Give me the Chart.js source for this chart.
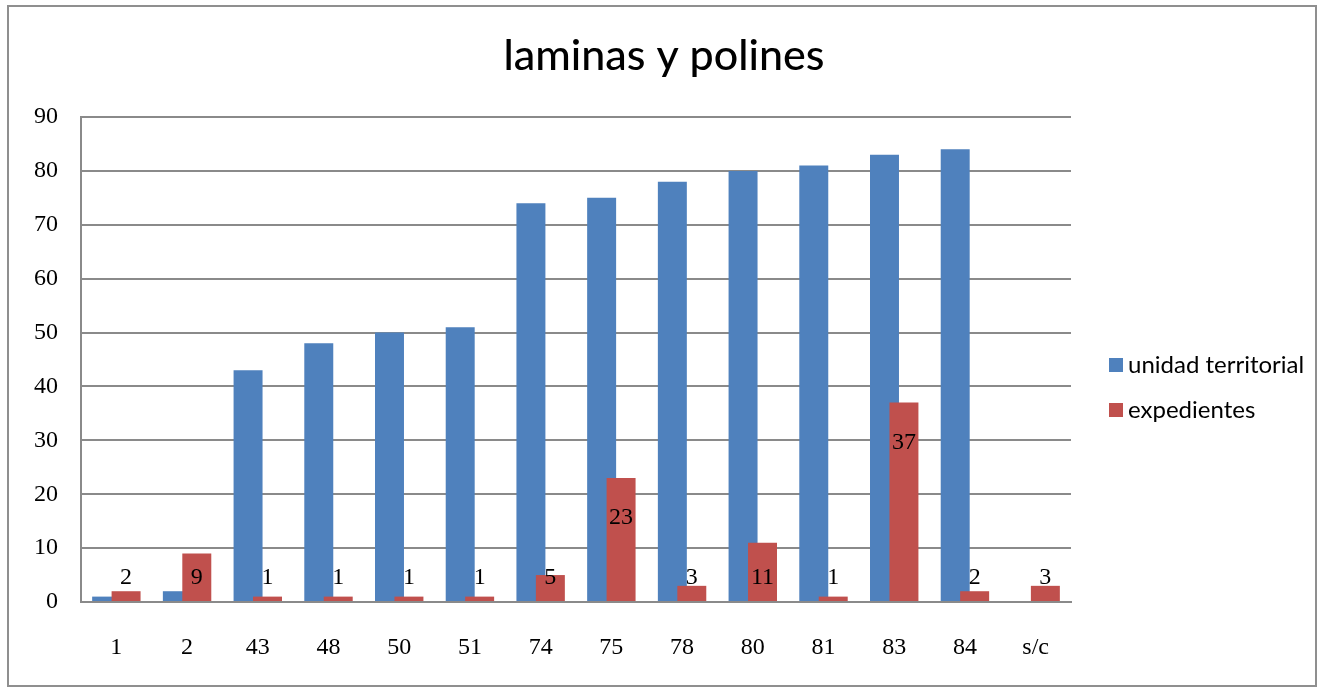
<!DOCTYPE html>
<html>
<head>
<meta charset="utf-8">
<script src="https://cdn.jsdelivr.net/npm/chart.js"></script>
<style>
  body { margin: 0; background: #fff; }
  #wrap { width: 1318px; height: 688px; }
</style>
</head>
<body>
<div id="wrap"><canvas id="chart" width="1318" height="688"></canvas></div>
<script>
// data
const categories = ['1', '2', '43', '48', '50', '51', '74', '75', '78', '80', '81', '83', '84', 's/c'];
const unidadTerritorial = [1, 2, 43, 48, 50, 51, 74, 75, 78, 80, 81, 83, 84, null];
const expedientes = [2, 9, 1, 1, 1, 1, 5, 23, 3, 11, 1, 37, 2, 3];
const yTicks = [0, 10, 20, 30, 40, 50, 60, 70, 80, 90];
const chartTitle = 'laminas y polines';

const blue = '#4F81BD';
const red = '#C0504D';
const gridGray = '#8a8a8a';
const numFont = '"Liberation Serif", serif';
const sansFont = 'Lato, "Liberation Sans", sans-serif';

// white page, frame and the title (centred on the whole frame, not the plot)
const framePlugin = {
    id: 'frame',
    beforeDraw(chart) {
        const ctx = chart.ctx;
        ctx.save();
        ctx.fillStyle = '#fff';
        ctx.fillRect(0, 0, chart.width, chart.height);
        ctx.strokeStyle = '#8f8f8f';
        ctx.lineWidth = 2;
        ctx.strokeRect(8, 6, chart.width - 10, chart.height - 8);
        ctx.fillStyle = '#000';
        ctx.font = '500 43px ' + sansFont;
        ctx.textAlign = 'center';
        ctx.textBaseline = 'alphabetic';
        ctx.fillText(chartTitle, 664, 70);
        ctx.restore();
    }
};

// red bars overlap the blue ones, so blue goes down first
const drawOrderPlugin = {
    id: 'redOnTop',
    beforeDatasetsDraw(chart) {
        chart.getDatasetMeta(0).controller.draw();
    },
    beforeDatasetDraw(chart, args) {
        if (args.index === 0) return false;
    }
};

// numbers on the red bars
const labelPlugin = {
    id: 'redLabels',
    afterDatasetsDraw(chart) {
        const ctx = chart.ctx;
        const meta = chart.getDatasetMeta(1);
        const floorY = chart.scales.y.getPixelForValue(4.6);
        ctx.save();
        ctx.font = '24px ' + numFont;
        ctx.fillStyle = '#000';
        ctx.textAlign = 'center';
        ctx.textBaseline = 'middle';
        meta.data.forEach((bar, i) => {
            const v = chart.data.datasets[1].data[i];
            if (v == null) return;
            const y = Math.min(bar.y + 40, floorY);
            ctx.fillText(String(v), bar.x, y);
        });
        ctx.restore();
    }
};

// legend to the right of the plot
const legendPlugin = {
    id: 'sideLegend',
    afterDraw(chart) {
        const ctx = chart.ctx;
        const x = chart.chartArea.right + 38;
        const rows = [365, 410];
        ctx.save();
        ctx.font = '24px ' + sansFont;
        ctx.textBaseline = 'middle';
        ctx.textAlign = 'left';
        chart.data.datasets.forEach((ds, i) => {
            ctx.fillStyle = ds.backgroundColor;
            ctx.fillRect(x, rows[i] - 7, 14, 14);
            ctx.fillStyle = '#000';
            ctx.fillText(ds.label, x + 19, rows[i]);
        });
        ctx.restore();
    }
};

new Chart(document.getElementById('chart').getContext('2d'), {
    type: 'bar',
    data: {
        labels: categories,
        datasets: [
            {
                label: 'unidad territorial',
                data: unidadTerritorial,
                backgroundColor: blue,
                categoryPercentage: 0.55,
                barPercentage: 1.49
            },
            {
                label: 'expedientes',
                data: expedientes,
                backgroundColor: red,
                categoryPercentage: 0.55,
                barPercentage: 1.49
            }
        ]
    },
    options: {
        responsive: false,
        animation: false,
        layout: { padding: { left: 0, right: 247, top: 117, bottom: 0 } },
        plugins: {
            legend: { display: false },
            tooltip: { enabled: false },
            title: { display: false }
        },
        scales: {
            x: {
                afterFit(scale) { scale.height = 86; },
                grid: { display: false, drawTicks: false },
                border: { color: gridGray, width: 2 },
                ticks: {
                    color: '#000',
                    font: { family: numFont, size: 24 },
                    padding: 31,
                    maxRotation: 0
                }
            },
            y: {
                min: 0,
                max: 90,
                afterFit(scale) { scale.width = 81; },
                afterBuildTicks(scale) { scale.ticks = yTicks.map(v => ({ value: v })); },
                grid: { color: gridGray, lineWidth: 2, drawTicks: false },
                border: { color: gridGray, width: 2 },
                ticks: {
                    color: '#000',
                    font: { family: numFont, size: 24 },
                    padding: 23
                }
            }
        }
    },
    plugins: [framePlugin, drawOrderPlugin, labelPlugin, legendPlugin]
});
</script>
</body>
</html>
